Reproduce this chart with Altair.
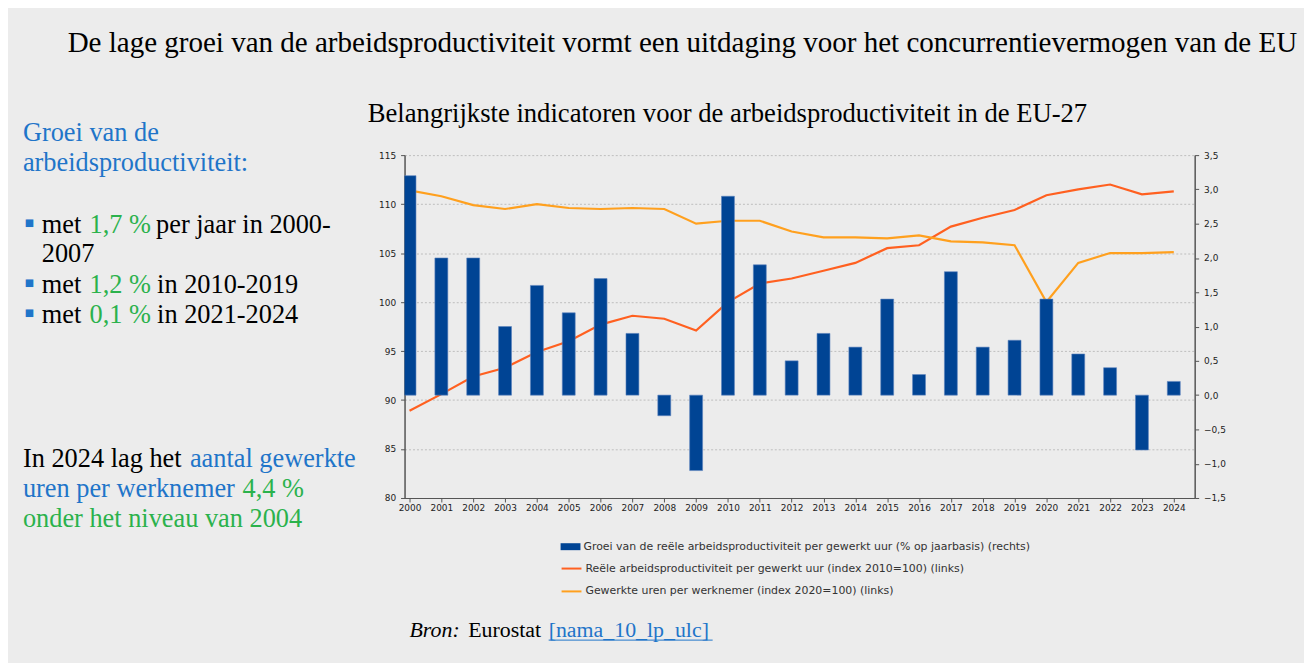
import altair as alt
import pandas as pd

# ---------------- data ----------------
years = list(range(2000, 2025))
growth = [3.2, 2.0, 2.0, 1.0, 1.6, 1.2, 1.7, 0.9, -0.3, -1.1, 2.9, 1.9, 0.5,
          0.9, 0.7, 1.4, 0.3, 1.8, 0.7, 0.8, 1.4, 0.6, 0.4, -0.8, 0.2]
productivity = [88.9, 90.6, 92.4, 93.3, 94.9, 96.0, 97.7, 98.6, 98.3, 97.1,
                100.0, 101.9, 102.4, 103.2, 104.0, 105.5, 105.8, 107.7, 108.6,
                109.4, 110.9, 111.5, 112.0, 111.0, 111.3]
hours = [111.4, 110.8, 109.9, 109.5, 110.0, 109.6, 109.5, 109.6, 109.5, 108.0,
         108.3, 108.3, 107.2, 106.6, 106.6, 106.5, 106.8, 106.2, 106.1, 105.8,
         100.0, 104.0, 105.0, 105.0, 105.1]
left_ticks = [80, 85, 90, 95, 100, 105, 110, 115]
right_ticks = [-1.5, -1.0, -0.5, 0.0, 0.5, 1.0, 1.5, 2.0, 2.5, 3.0, 3.5]

lab_bar = "Groei van de reële arbeidsproductiviteit per gewerkt uur (% op jaarbasis) (rechts)"
lab_prod = "Reële arbeidsproductiviteit per gewerkt uur (index 2010=100) (links)"
lab_hours = "Gewerkte uren per werknemer (index 2020=100) (links)"

title_main = "De lage groei van de arbeidsproductiviteit vormt een uitdaging voor het concurrentievermogen van de EU"
title_sub = "Belangrijkste indicatoren voor de arbeidsproductiviteit in de EU-27"

BAR = "#004494"
RED = "#ff6020"
ORANGE = "#ffa01e"
BLUE = "#1f75c9"
GREEN = "#2bb24c"
BG = "#ececec"

# plot-area origin in page coordinates
X0, Y0 = 407, 154
W, H = 795, 345

bars_df = pd.DataFrame({"year": years, "growth": growth, "s": [lab_bar] * len(years)})
lines_df = pd.concat([
    pd.DataFrame({"year": years, "value": productivity, "series": lab_prod}),
    pd.DataFrame({"year": years, "value": hours, "series": lab_hours}),
])
one = pd.DataFrame({"k": [0]})

xenc = alt.X("year:Q",
             scale=alt.Scale(domain=[2000, 2024.5], nice=False, zero=False),
             axis=alt.Axis(values=years, format="d", title=None, grid=False,
                           labelFont="DejaVu Sans", labelFontSize=9, labelColor="#222",
                           domainColor="#555", domainWidth=1.2, tickColor="#555",
                           tickSize=4, labelPadding=2, labelFlush=False,
                           labelOverlap=False))

bars = alt.Chart(bars_df).mark_bar(size=13, clip=True, stroke="#5b82bd",
                                   strokeWidth=0.6).encode(
    x=xenc,
    y=alt.Y("growth:Q",
            scale=alt.Scale(domain=[-1.5, 3.5], nice=False, zero=False),
            axis=alt.Axis(orient="right", values=right_ticks, title=None, grid=False,
                          labelExpr="replace(format(datum.value, '.1f'), '.', ',')",
                          labelFont="DejaVu Sans", labelFontSize=9, labelColor="#222",
                          domainColor="#555", domainWidth=1.5, tickColor="#555",
                          tickSize=4, labelPadding=5)),
    y2=alt.datum(0),
    color=alt.Color("s:N", scale=alt.Scale(domain=[lab_bar], range=[BAR]),
                    legend=alt.Legend(title=None, orient="none", legendX=157, legendY=384,
                                      symbolType="M-1,-0.35L1,-0.35L1,0.35L-1,0.35Z",
                                      symbolSize=400, symbolStrokeWidth=0,
                                      labelFont="DejaVu Sans", labelFontSize=11,
                                      labelColor="#333", labelOffset=3, padding=0,
                                      labelLimit=0)),
)

lines = alt.Chart(lines_df).mark_line(strokeWidth=2.2).encode(
    x=xenc,
    y=alt.Y("value:Q",
            scale=alt.Scale(domain=[80, 115], nice=False, zero=False),
            axis=alt.Axis(orient="left", values=left_ticks, title=None, grid=True,
                          gridColor="#bdbdbd", gridDash=[2, 2], gridWidth=1,
                          labelFont="DejaVu Sans", labelFontSize=9, labelColor="#222",
                          domainColor="#555", domainWidth=1.5, tickColor="#555",
                          tickSize=4, labelPadding=5)),
    stroke=alt.Stroke("series:N",
                      scale=alt.Scale(domain=[lab_prod, lab_hours], range=[RED, ORANGE]),
                      legend=alt.Legend(title=None, orient="none", legendX=157, legendY=405,
                                        symbolType="stroke", symbolSize=400,
                                        symbolStrokeWidth=2, rowPadding=7,
                                        labelFont="DejaVu Sans", labelFontSize=11,
                                        labelColor="#333", labelOffset=3, padding=0,
                                        labelLimit=0)),
)


def txt(text, x, y, color="#000", size=26.5, font="Liberation Serif", style="normal",
        align="left", baseline="alphabetic"):
    return alt.Chart(one).mark_text(
        text=text, font=font, fontSize=size, fontStyle=style, color=color,
        align=align, baseline=baseline
    ).encode(x=alt.value(x - X0), y=alt.value(y - Y0))


texts = [
    txt(title_main, 68, 50, size=29.2),
    txt(title_sub, 370, 121, size=26.8),
    txt("Groei van de", 23, 140, BLUE),
    txt("arbeidsproductiviteit:", 23, 170, BLUE),
    txt("■", 29.5, 222, BLUE, size=10, font="DejaVu Sans", align="center", baseline="middle"),
    txt("met", 42, 232), txt("1,7 %", 90, 232, GREEN), txt("per jaar in 2000-", 157, 232),
    txt("2007", 42, 262),
    txt("■", 29.5, 283, BLUE, size=10, font="DejaVu Sans", align="center", baseline="middle"),
    txt("met", 42, 293), txt("1,2 %", 90, 293, GREEN), txt("in 2010-2019", 158, 293),
    txt("■", 29.5, 313, BLUE, size=10, font="DejaVu Sans", align="center", baseline="middle"),
    txt("met", 42, 323), txt("0,1 %", 90, 323, GREEN), txt("in 2021-2024", 158, 323),
    txt("In 2024 lag het", 23, 468), txt("aantal gewerkte", 191, 468, BLUE),
    txt("uren per werknemer", 23, 498, BLUE), txt("4,4 %", 244, 498, GREEN),
    txt("onder het niveau van 2004", 23, 528, GREEN),
    txt("Bron:", 412, 639, size=22, style="italic"),
    txt("Eurostat", 471, 639, size=22),
    txt("[nama_10_lp_ulc]", 552, 639, BLUE, size=22),
]

underline = alt.Chart(one).mark_rule(color=BLUE, strokeWidth=1).encode(
    x=alt.value(552 - X0), x2=alt.value(717 - X0), y=alt.value(642 - Y0))

chart = alt.layer(lines, bars, *texts, underline).resolve_scale(
    y="independent", color="independent"
).properties(
    width=W, height=H,
    background=BG,
    padding={"left": X0 - 8, "top": Y0 - 8, "right": 1304 - (X0 - 8) - W,
             "bottom": 655 - (Y0 - 8) - H},
    autosize=alt.AutoSizeParams(type="none"),
).configure_view(stroke=None)

chart.save("out.html", embed_options={"renderer": "svg", "actions": False})
